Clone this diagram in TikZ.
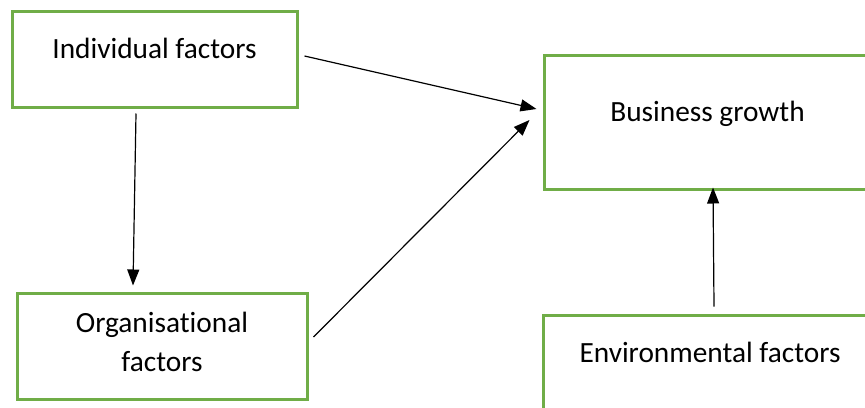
\documentclass[tikz,border=0pt]{standalone}
\usepackage{fontspec}
\setmainfont{Carlito}[Ligatures={NoCommon}]
\usetikzlibrary{arrows.meta,calc}
\definecolor{officegreen}{HTML}{70AD47}
\begin{document}
\begin{tikzpicture}[x=0.5pt, y=-0.5pt, >={Triangle[length=8pt,width=6pt]},
    factor/.style={draw=officegreen, line width=1.5pt, fill=white},
    caption/.style={font=\fontsize{14.67}{19.5}\selectfont, align=center, anchor=base, inner sep=0pt},
    link/.style={->, line width=0.6pt}]
    \useasboundingbox (0,0) rectangle (865,407);
    \clip (0,0) rectangle (865,407);
    % Boxes
    \node[factor, minimum width=142.5pt, minimum height=48pt] (ind) at (154.5,59) {};
    \node[factor, minimum width=168pt, minimum height=67pt] (bus) at (712,122) {};
    \node[factor, minimum width=145pt, minimum height=53pt] (org) at (162,346) {};
    \node[factor, minimum width=168.5pt, minimum height=62.5pt] (env) at (711.5,377.5) {};
    % Texts
    \node[caption] (indtxt) at (154.5,58) {Individual factors};
    \node[caption] (bustxt) at (707.5,121) {Business growth};
    \node[caption] (orgtxt) at (162,371) {Organisational\\factors};
    \node[caption] (envtxt) at (710,362) {Environmental factors};
    % Arrows
    \draw[link] ($(ind.east)+(6,-3)$) -- ($(bus.west)+(-6,-13)$);
    \draw[link] ($(org.east)+(5,-9)$) -- ($(bus.west)+(-13,-2)$);
    \draw[link] ($(ind.south)+(-18.5,5)$) -- ($(org.north)+(-29,-6)$);
    \draw[link] ($(env.north)+(2.5,-7)$) -- ($(bus.south)+(1,-3)$);
\end{tikzpicture}
\end{document}
